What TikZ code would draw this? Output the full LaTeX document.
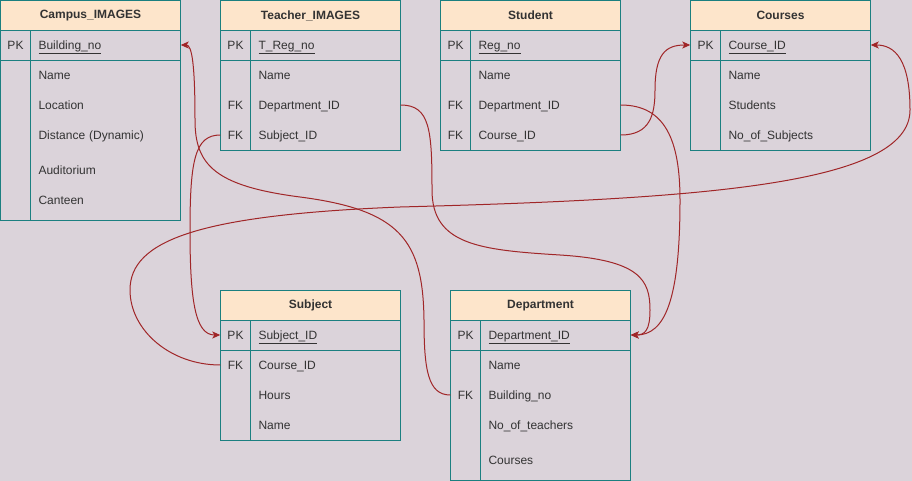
\documentclass[tikz,border=0pt]{standalone}
\usepackage{fontspec}
\setmainfont{Liberation Sans}
\usetikzlibrary{arrows.meta}
\definecolor{bgcol}{HTML}{DBD3DA}
\definecolor{headcol}{HTML}{FDE5CB}
\definecolor{tealcol}{HTML}{1B7F80}
\definecolor{linkcol}{HTML}{A02628}
\definecolor{txtcol}{HTML}{333333}
\tikzset{
  head/.style={draw=tealcol, fill=headcol, line width=1pt, minimum width=180pt,
    minimum height=30pt, inner sep=0pt, font=\fontsize{12}{14}\selectfont\bfseries,
    text=txtcol},
  key/.style={minimum width=30pt, minimum height=30pt, inner sep=0pt,
    text height=9pt, text depth=0.5pt, text=txtcol},
  field/.style={minimum width=150pt, minimum height=30pt, text width=134pt,
    inner xsep=8pt, inner ysep=0pt, align=left, text height=9pt,
    text depth=0.5pt, text=txtcol},
  tab/.style={draw=tealcol, line width=1pt},
  link/.style={draw=linkcol, line width=1pt, -{Stealth[length=8pt,width=7pt,inset=2pt]}}
}
% frame of a table body: left x, top y, bottom y
\newcommand{\tabframe}[3]{%
  \draw[tab] (#1,#2+30) rectangle (#1+180,#3);
  \draw[tab] (#1,#2+60) -- (#1+180,#2+60) (#1+30,#2+30) -- (#1+30,#3);
}
\begin{document}
\begin{tikzpicture}[x=1pt,y=-1pt,font=\fontsize{12}{14}\selectfont]
        \fill[bgcol] (0,0) rectangle (912,481);
        %% Campus_IMAGES
        \def\x{0.5}
        \tabframe{\x}{0.5}{220.5}
        \node[head] (cam) at (\x+90,15.5) {Campus\_IMAGES};
        \foreach \r/\k/\f/\n in {45/PK/\underline{Building\_no}/pk, 75//Name/name,
            105//Location/loc, 135//Distance (Dynamic)/dist, 170//Auditorium/aud,
            200//Canteen/cant} {
            \node[key] (cam-k-\n) at (\x+15,\r) {\k};
            \node[field] (cam-\n) at (\x+105,\r) {\f};
        }
        %% Teacher_IMAGES
        \def\x{220.5}
        \tabframe{\x}{0.5}{150.5}
        \node[head] (tea) at (\x+90,15.5) {Teacher\_IMAGES};
        \foreach \r/\k/\f/\n in {45/PK/\underline{T\_Reg\_no}/pk, 75//Name/name,
            105/FK/Department\_ID/dept, 135/FK/Subject\_ID/subj} {
            \node[key] (tea-k-\n) at (\x+15,\r) {\k};
            \node[field] (tea-\n) at (\x+105,\r) {\f};
        }
        %% Student
        \def\x{440.5}
        \tabframe{\x}{0.5}{150.5}
        \node[head] (stu) at (\x+90,15.5) {Student};
        \foreach \r/\k/\f/\n in {45/PK/\underline{Reg\_no}/pk, 75//Name/name,
            105/FK/Department\_ID/dept, 135/FK/Course\_ID/crs} {
            \node[key] (stu-k-\n) at (\x+15,\r) {\k};
            \node[field] (stu-\n) at (\x+105,\r) {\f};
        }
        %% Courses
        \def\x{690.5}
        \tabframe{\x}{0.5}{150.5}
        \node[head] (crs) at (\x+90,15.5) {Courses};
        \foreach \r/\k/\f/\n in {45/PK/\underline{Course\_ID}/pk, 75//Name/name,
            105//Students/stud, 135//No\_of\_Subjects/nsub} {
            \node[key] (crs-k-\n) at (\x+15,\r) {\k};
            \node[field] (crs-\n) at (\x+105,\r) {\f};
        }
        %% Subject
        \def\x{220.5}
        \tabframe{\x}{290.5}{440.5}
        \node[head] (sub) at (\x+90,305.5) {Subject};
        \foreach \r/\k/\f/\n in {335/PK/\underline{Subject\_ID}/pk, 365/FK/Course\_ID/crs,
            395//Hours/hrs, 425//Name/name} {
            \node[key] (sub-k-\n) at (\x+15,\r) {\k};
            \node[field] (sub-\n) at (\x+105,\r) {\f};
        }
        %% Department
        \def\x{450.5}
        \tabframe{\x}{290.5}{480.5}
        \node[head] (dep) at (\x+90,305.5) {Department};
        \foreach \r/\k/\f/\n in {335/PK/\underline{Department\_ID}/pk, 365//Name/name,
            395/FK/Building\_no/bno, 425//No\_of\_teachers/ntea, 460//Courses/crs} {
            \node[key] (dep-k-\n) at (\x+15,\r) {\k};
            \node[field] (dep-\n) at (\x+105,\r) {\f};
        }
        %% links
        \draw[link] (tea-k-subj.west) .. controls (195,135) and (190,160) .. (190,230)
            .. controls (190,300) and (195,335) .. (sub-k-pk.west);
        \draw[link] (dep-k-bno.west) .. controls (428,395) and (424,370) .. (424,320)
            .. controls (423,240) and (400,210) .. (300,197)
            .. controls (215,186) and (195,165) .. (195,120)
            .. controls (195,65) and (192,45) .. (cam-pk.east);
        \draw[link] (tea-dept.east) .. controls (430,105) and (432,130) .. (432,190)
            .. controls (432,245) and (480,250) .. (560,255)
            .. controls (640,260) and (650,280) .. (650,310)
            .. controls (650,330) and (645,335) .. (dep-pk.east);
        \draw[link] (stu-dept.east) .. controls (665,105) and (680,140) .. (680,200)
            .. controls (680,300) and (665,335) .. (dep-pk.east);
        \draw[link] (stu-crs.east) .. controls (650,135) and (655,115) .. (655,90)
            .. controls (655,55) and (665,45) .. (crs-k-pk.west);
        \draw[link] (sub-k-crs.west) .. controls (170,365) and (130,330) .. (130,290)
            .. controls (130,240) and (200,215) .. (400,207)
            .. controls (700,199) and (910,185) .. (910,110)
            .. controls (910,60) and (895,45) .. (crs-pk.east);
\end{tikzpicture}
\end{document}
